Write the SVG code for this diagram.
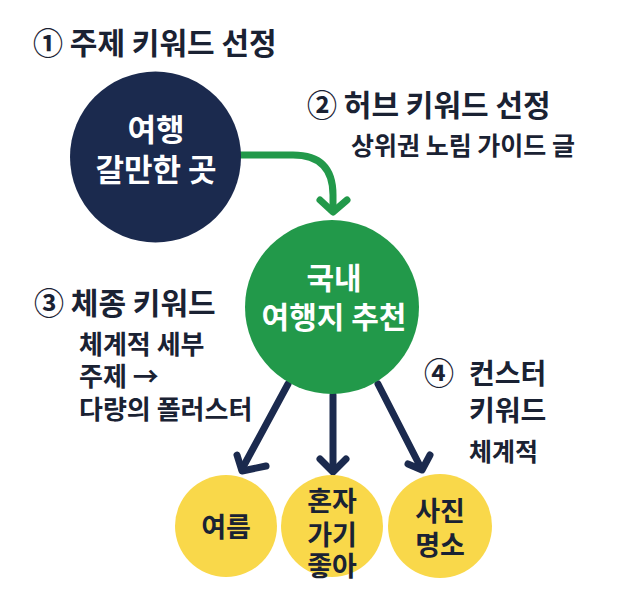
<svg xmlns="http://www.w3.org/2000/svg" width="620" height="601" viewBox="0 0 620 601">
<defs>
<style>
.t{font-family:"Noto Sans CJK KR","Noto Sans",sans-serif;font-weight:700;fill:#1a2233}
.h{font-size:30px}
.h4{font-size:28px}
.s{font-size:25px}
.s3{font-size:26px}
.w{fill:#ffffff;text-anchor:middle}
.y{font-size:27px;text-anchor:middle}
.nv{stroke:#1b2a4e;stroke-width:7;fill:none;stroke-linecap:round;stroke-linejoin:round}
.gr{stroke:#22994a;stroke-width:7;fill:none;stroke-linecap:round;stroke-linejoin:round}
</style>
</defs>
<rect width="620" height="601" fill="#ffffff"/>
<g id="connectors">
<path class="gr" d="M238,155 H293 Q333,155 333,195 V210"/>
<path class="gr" d="M320,200 L333,212 L347,200"/>
<path class="nv" d="M288,384 L242,469"/>
<path class="nv" d="M237,455 L242,471 L266,466"/>
<path class="nv" d="M333,395 L333,471"/>
<path class="nv" d="M320,459 L333,472 L346,459"/>
<path class="nv" d="M378,384 L421,468"/>
<path class="nv" d="M408,464 L422,470 L430,455"/>
</g>
<g id="label1"><text class="t h" x="33" y="54">① 주제 키워드 선정</text></g>
<g id="label2"><text class="t h" x="307" y="116">② 허브 키워드 선정</text><text class="t s" x="351" y="155">상위권 노림 가이드 글</text></g>
<g id="label3"><text class="t h" x="34" y="314">③ 체종 키워드</text><text class="t s3" x="79" y="354">체계적 세부</text><text class="t s3" x="79" y="386">주제 →</text><text class="t s3" x="79" y="419">다량의 폴러스터</text></g>
<g id="label4"><text class="t h" x="424" y="384">④</text><text class="t h4" x="469" y="384">컨스터</text><text class="t h4" x="469" y="421">키워드</text><text class="t s" x="469" y="461">체계적</text></g>
<g id="node-travel"><circle cx="155.5" cy="157" r="85.5" fill="#1b2a4e"/><text class="t w" font-size="31" x="156" y="141">여행</text><text class="t w" font-size="31" x="156" y="181">갈만한 곳</text></g>
<g id="node-domestic"><circle cx="332" cy="307" r="87" fill="#22994a"/><text class="t w" font-size="30" x="334" y="289">국내</text><text class="t w" font-size="30" x="334" y="328">여행지 추천</text></g>
<g id="node-summer"><circle cx="226" cy="526" r="51" fill="#f9d84a"/><text class="t y" x="226" y="537">여름</text></g>
<g id="node-solo"><circle cx="332" cy="526" r="51" fill="#f9d84a"/><text class="t y" x="332" y="511">혼자</text><text class="t y" x="332" y="545">가기</text><text class="t y" x="332" y="576">좋아</text></g>
<g id="node-photo"><circle cx="440" cy="526" r="52" fill="#f9d84a"/><text class="t y" x="440" y="521">사진</text><text class="t y" x="440" y="555">명소</text></g>
</svg>
